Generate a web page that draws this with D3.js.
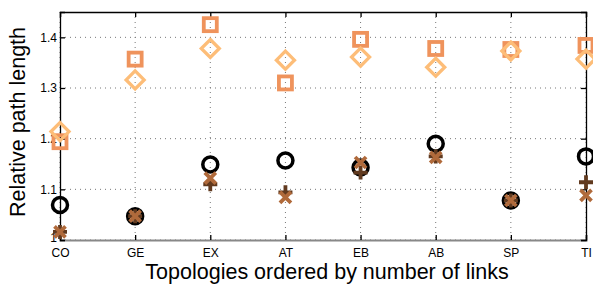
<!DOCTYPE html>
<html>
<head>
<meta charset="utf-8">
<script src="https://cdn.jsdelivr.net/npm/d3@7"></script>
<style>
body { margin: 0; background: #fff; }
text { font-family: "Liberation Sans", Arial, sans-serif; }
</style>
</head>
<body>
<script>
var topologies = ["CO", "GE", "EX", "AT", "EB", "AB", "SP", "TI"];
var yTicks = [1, 1.1, 1.2, 1.3, 1.4];

// series values
var squareVals  = [1.194, 1.357, 1.425, 1.310, 1.396, 1.378, 1.376, 1.384];
var diamondVals = [1.214, 1.316, 1.378, 1.355, 1.361, 1.341, 1.373, 1.357];
var circleVals  = [1.069, 1.047, 1.149, 1.157, 1.143, 1.190, 1.078, 1.165];
var plusVals    = [1.016, 1.047, 1.110, 1.094, 1.133, 1.165, 1.078, 1.114];
var crossVals   = [1.016, 1.047, 1.122, 1.084, 1.153, 1.163, 1.078, 1.088];

var W = 593, H = 284;
// plot box (note: "top" is reserved on window, so use pTop)
var pLeft = 60, pRight = 586, pTop = 12, pBottom = 240;

var svg = d3.select("body").append("svg").attr("width", W).attr("height", H);

var x = d3.scalePoint().domain(topologies).range([pLeft, pRight]);
var y = d3.scaleLinear().domain([1, 1.45]).range([pBottom, pTop]);

// grid
var grid = svg.append("g");
grid.selectAll(".gx").data(topologies).enter().append("line")
    .attr("x1", d => x(d)).attr("x2", d => x(d))
    .attr("y1", pTop).attr("y2", pBottom)
    .attr("stroke", "#777").attr("stroke-width", 1).attr("stroke-dasharray", "1,4");
grid.selectAll(".gy").data(yTicks).enter().append("line")
    .attr("x1", pLeft).attr("x2", pRight)
    .attr("y1", d => y(d)).attr("y2", d => y(d))
    .attr("stroke", "#777").attr("stroke-width", 1).attr("stroke-dasharray", "1,4");

// axes with inward ticks
var xAxis = svg.append("g").attr("transform", "translate(0," + pBottom + ")")
    .call(d3.axisBottom(x).tickSize(-5).tickPadding(8));
var xTop = svg.append("g").attr("transform", "translate(0," + pTop + ")")
    .call(d3.axisTop(x).tickSize(-5).tickFormat(""));
var yAxis = svg.append("g").attr("transform", "translate(" + pLeft + ",0)")
    .call(d3.axisLeft(y).tickValues(yTicks).tickSize(-5).tickPadding(3).tickFormat(d3.format("")));
var yRight = svg.append("g").attr("transform", "translate(" + pRight + ",0)")
    .call(d3.axisRight(y).tickValues(yTicks).tickSize(-5).tickFormat(""));

[xAxis, xTop, yAxis, yRight].forEach(function(a) {
  a.select(".domain").attr("stroke", "#000").attr("stroke-width", 1.3);
  a.selectAll(".tick line").attr("stroke", "#000").attr("stroke-width", 1.3);
  a.selectAll("text").attr("font-size", 12).attr("fill", "#000")
    .attr("font-family", "Liberation Sans, Arial, sans-serif");
});
xAxis.select(".domain").attr("stroke", "#888").attr("stroke-width", 2);
// the "1" label sits a touch higher, just above CO
yAxis.selectAll(".tick text").filter(d => d === 1).attr("dy", "0.1em");

// markers
var g = svg.append("g");

g.selectAll(".sq").data(squareVals).enter().append("rect")
    .attr("x", (d, i) => x(topologies[i]) - 6.5)
    .attr("y", d => y(d) - 6.5)
    .attr("width", 13).attr("height", 13)
    .attr("fill", "none").attr("stroke", "#ef935c").attr("stroke-width", 3.8);

g.selectAll(".di").data(diamondVals).enter().append("path")
    .attr("transform", (d, i) => "translate(" + x(topologies[i]) + "," + y(d) + ")")
    .attr("d", "M0,-9L9,0L0,9L-9,0Z")
    .attr("fill", "none").attr("stroke", "#fdbd78").attr("stroke-width", 3.3);

g.selectAll(".ci").data(circleVals).enter().append("circle")
    .attr("cx", (d, i) => x(topologies[i]))
    .attr("cy", d => y(d))
    .attr("r", 7.5)
    .attr("fill", "none").attr("stroke", "#000").attr("stroke-width", 3.5);

g.selectAll(".pl").data(plusVals).enter().append("path")
    .attr("transform", (d, i) => "translate(" + x(topologies[i]) + "," + y(d) + ")")
    .attr("d", "M-7,0H7M0,-7V7")
    .attr("fill", "none").attr("stroke", "#613a1f").attr("stroke-width", 3.8);

g.selectAll(".cr").data(crossVals).enter().append("path")
    .attr("transform", (d, i) => "translate(" + x(topologies[i]) + "," + y(d) + ")")
    .attr("d", "M-5.5,-5.5L5.5,5.5M-5.5,5.5L5.5,-5.5")
    .attr("fill", "none").attr("stroke", "#b06a3b").attr("stroke-width", 3.8);

// axis titles
svg.append("text")
    .attr("x", 327).attr("y", 279)
    .attr("text-anchor", "middle").attr("font-size", 21.5)
    .text("Topologies ordered by number of links");

svg.append("text")
    .attr("transform", "translate(25,122) rotate(-90)")
    .attr("text-anchor", "middle").attr("font-size", 21.5)
    .text("Relative path length");
</script>
</body>
</html>
